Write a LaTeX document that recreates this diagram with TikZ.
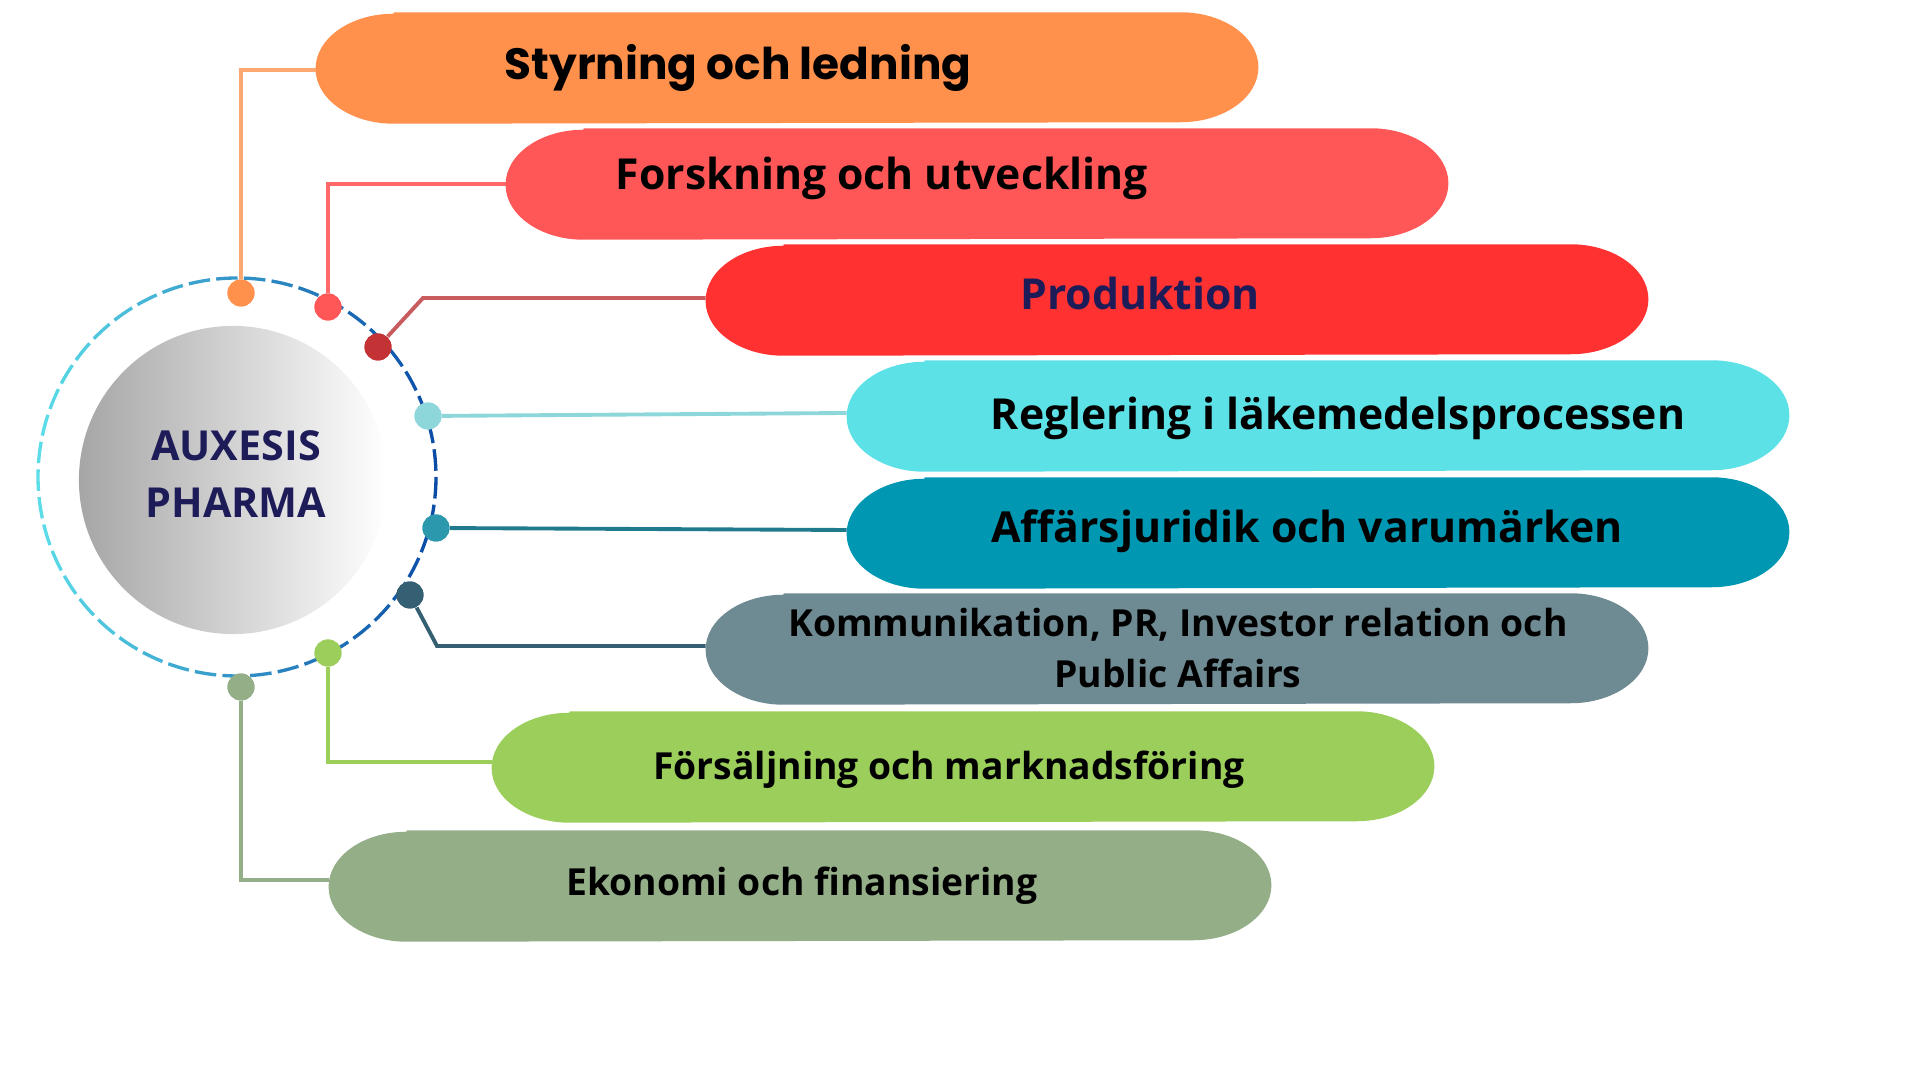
\documentclass[tikz,border=0pt]{standalone}
\usepackage{fontspec}
\setmainfont{Open Sans}
\newfontfamily\popfont{Poppins}
\usetikzlibrary{positioning}

\definecolor{styrcol}{HTML}{FF914D}
\definecolor{forskcol}{HTML}{FF5757}
\definecolor{prodcol}{HTML}{FF3131}
\definecolor{reglcol}{HTML}{5CE1E6}
\definecolor{affarcol}{HTML}{0097B2}
\definecolor{kommcol}{HTML}{6E8A92}
\definecolor{forscol}{HTML}{9BCE5A}
\definecolor{ekocol}{HTML}{94AE88}
\definecolor{prodline}{HTML}{C75B5E}
\definecolor{prodpt}{HTML}{C33235}
\definecolor{reglpt}{HTML}{8DD6D9}
\definecolor{affarpt}{HTML}{2B98AD}
\definecolor{affarline}{HTML}{1E7A8C}
\definecolor{kommpt}{HTML}{355F72}
\definecolor{navy}{HTML}{1E1C58}
\definecolor{dashcyan}{HTML}{5CDDE8}
\definecolor{dashblue}{HTML}{0A4BA6}
\definecolor{hubgray}{HTML}{A6A6A6}

% pill body with flattened (elliptic) ends, filled round a named node
\newcommand\pillbody[2]{%
  \fill[#2] ([xshift=0.78cm]#1.north west) -- ([xshift=-0.78cm]#1.north east)
    arc[start angle=-90,end angle=90,x radius=78,y radius=55]
    -- ([xshift=0.78cm]#1.south west)
    arc[start angle=90,end angle=270,x radius=78,y radius=55] -- cycle;}

\begin{document}
\begin{tikzpicture}[x=0.01cm,y=-0.01cm,
  pill/.style={rectangle,minimum width=9.41cm,minimum height=1.1cm,inner sep=0pt},
  pill text/.style={font=\bfseries\fontsize{12.15}{15}\selectfont,text height=0.72em,text depth=0pt,inner sep=0pt},
  small text/.style={pill text,font=\bfseries\fontsize{10.6}{15}\selectfont},
  dot/.style={circle,inner sep=0pt,minimum size=0.27cm},
  link/.style={line width=1.1pt}]
  \useasboundingbox (0,0) rectangle (1920,1080);

  % dashed ring, cyan on the left to blue on the right
  \foreach \a in {0,8,...,352}{
    \pgfmathsetmacro\mixval{50+50*cos(\a+3.1)}
    \draw[line width=0.95pt,dashblue!\mixval!dashcyan] (237,477) ++(\a:199) arc[start angle=\a,end angle=\a+6.2,radius=199];
  }

  % branches
  \node[pill] (styr) at (787,68) {};
  \node[pill] (forsk) at (977,184) {};
  \node[pill] (prod) at (1177,300) {};
  \node[pill] (regl) at (1318,416) {};
  \node[pill] (affar) at (1318,533) {};
  \node[pill] (komm) at (1177,649) {};
  \node[pill] (fors) at (963,767) {};
  \node[pill] (eko) at (800,886) {};
  \foreach \n/\c in {styr/styrcol,forsk/forskcol,prod/prodcol,regl/reglcol,affar/affarcol,komm/kommcol,fors/forscol,eko/ekocol}
    \pillbody{\n}{\c};

  \node[pill text,font=\popfont\bfseries\fontsize{12.45}{15}\selectfont] at (738,67) {Styrning och ledning};
  \node[pill text] at (882,177) {Forskning och utveckling};
  \node[pill text,text=navy] at (1140,297) {Produktion};
  \node[pill text] at (1338,417) {Reglering i läkemedelsprocessen};
  \node[pill text] at (1307,530) {Affärsjuridik och varumärken};
  \node[font=\bfseries\fontsize{10.6}{14.3}\selectfont,align=center,inner sep=0pt] at (1178,648) {Kommunikation, PR, Investor relation och\\Public Affairs};
  \node[small text] at (949,767) {Försäljning och marknadsföring};
  \node[small text] at (802,883) {Ekonomi och finansiering};

  % points on the ring
  \node[dot,fill=styrcol] (d1) at (241,293) {};
  \node[dot,fill=forskcol] (d2) at (328,307) {};
  \node[dot,fill=prodpt] (d3) at (378,347) {};
  \node[dot,fill=reglpt] (d4) at (428,416) {};
  \node[dot,fill=affarpt] (d5) at (436,528) {};
  \node[dot,fill=kommpt] (d6) at (410,595) {};
  \node[dot,fill=forscol] (d7) at (328,653) {};
  \node[dot,fill=ekocol] (d8) at (241,687) {};
  \coordinate (k3) at (423,298);
  \coordinate (k6) at (437,646);

  \draw[link,styrcol!80!white] (d1) |- ([yshift=-0.02cm]styr.west);
  \draw[link,forskcol!90!white] (d2) |- (forsk.west);
  \draw[link,prodline] (d3) -- (k3) -- ([yshift=0.02cm]prod.west);
  \draw[link,reglpt] (d4) -- ([yshift=0.03cm]regl.west);
  \draw[link,affarline] (d5) -- ([yshift=0.03cm]affar.west);
  \draw[link,kommpt] (d6) -- (k6) -- ([yshift=0.03cm]komm.west);
  \draw[link,forscol] (d7) |- ([yshift=0.05cm]fors.west);
  \draw[link,ekocol] (d8) |- ([yshift=0.06cm]eko.west);

  % redraw the points above the lines
  \foreach \p/\c in {d1/styrcol,d2/forskcol,d3/prodpt,d4/reglpt,d5/affarpt,d6/kommpt,d7/forscol,d8/ekocol}
    \fill[\c] (\p) circle[radius=13.5];

  % hub
  \node[circle,minimum size=3.08cm,left color=hubgray,right color=white,inner sep=0pt] (hub) at (233,480) {};
  \node[text=navy,font=\bfseries\fontsize{11.75}{16.2}\selectfont,align=center,inner sep=0pt] at (236,474) {AUXESIS\\PHARMA};
\end{tikzpicture}
\end{document}
